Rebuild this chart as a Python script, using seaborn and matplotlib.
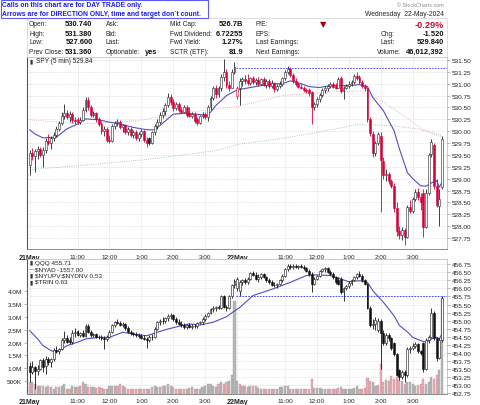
import numpy as np
import pandas as pd
import matplotlib
matplotlib.use("Agg")
import matplotlib.pyplot as plt
from matplotlib.patches import Rectangle
import seaborn as sns

# ---------------------------------------------------------------
# DATA (5 min bars, 21 May + 22 May, 78 bars per day)
# ---------------------------------------------------------------

spy_open = [
    529.28, 529.55, 529.48, 529.58, 529.62, 529.50, 529.60, 529.80, 529.75, 529.85,
    529.92, 530.05, 530.18, 530.32, 530.38, 530.30, 530.36, 530.24, 530.25, 530.20,
    530.24, 530.45, 530.66, 530.50, 530.35, 530.38, 530.25, 530.15, 530.00, 530.05,
    529.82, 529.80, 530.10, 530.18, 530.20, 530.08, 530.12, 529.98, 530.05, 529.92,
    529.98, 529.86, 529.95, 530.00, 529.82, 529.85, 529.75, 529.98, 530.10, 530.20,
    530.35, 530.42, 530.55, 530.72, 530.62, 530.48, 530.58, 530.45, 530.40, 530.50,
    530.38, 530.32, 530.36, 530.26, 530.18, 530.32, 530.36, 530.30, 530.50, 530.70,
    530.90, 530.78, 530.90, 531.15, 531.25, 530.98, 530.92, 531.25,
    530.74, 530.90, 531.05, 531.10, 531.08, 531.02, 531.12, 531.04, 531.08, 531.00,
    531.10, 530.98, 531.05, 530.96, 531.02, 530.88, 530.96, 531.00, 531.12, 531.25,
    531.32, 531.18, 531.06, 531.00, 530.94, 530.92, 530.86, 530.86, 530.82, 530.50,
    530.58, 530.68, 530.76, 530.86, 530.92, 530.96, 531.00, 530.96, 530.92, 531.12,
    530.84, 530.92, 530.96, 531.00, 531.04, 531.16, 531.14, 531.04, 530.95, 530.90,
    530.25, 529.95, 529.55, 529.75, 529.90, 529.38, 529.08, 529.10, 528.95, 528.85,
    528.38, 527.90, 527.82, 527.92, 527.78, 528.40, 528.32, 528.58, 528.72, 528.62,
    528.70, 527.98, 528.70, 529.52, 529.70, 528.85, 528.43, 528.82,
]
spy_high = [
    529.60, 529.65, 529.62, 529.68, 529.66, 529.66, 529.85, 529.95, 529.90, 529.98,
    530.10, 530.22, 530.40, 530.57, 530.45, 530.42, 530.40, 530.30, 530.30, 530.30,
    530.50, 530.72, 530.72, 530.55, 530.42, 530.40, 530.30, 530.22, 530.10, 530.08,
    529.92, 530.15, 530.22, 530.25, 530.24, 530.15, 530.15, 530.08, 530.08, 530.02,
    530.02, 529.98, 530.05, 530.02, 529.88, 529.88, 530.00, 530.15, 530.25, 530.40,
    530.48, 530.60, 530.80, 530.78, 530.68, 530.62, 530.62, 530.50, 530.55, 530.55,
    530.50, 530.40, 530.40, 530.30, 530.35, 530.40, 530.40, 530.55, 530.75, 530.95,
    530.98, 530.95, 531.20, 531.52, 531.30, 531.05, 531.30, 531.45,
    530.95, 531.12, 531.15, 531.18, 531.20, 531.15, 531.16, 531.12, 531.14, 531.12,
    531.14, 531.10, 531.10, 531.08, 531.04, 531.00, 531.05, 531.15, 531.28, 531.38,
    531.36, 531.22, 531.12, 531.04, 531.00, 530.96, 530.92, 530.90, 530.85, 530.62,
    530.72, 530.80, 530.90, 530.95, 531.00, 531.04, 531.04, 531.02, 531.15, 531.16,
    530.96, 531.00, 531.05, 531.08, 531.20, 531.24, 531.18, 531.08, 531.00, 530.92,
    530.30, 530.00, 529.80, 529.98, 529.98, 529.45, 529.20, 529.15, 529.00, 528.90,
    528.50, 528.00, 527.98, 527.96, 528.45, 528.55, 528.62, 528.78, 528.80, 528.70,
    528.78, 528.78, 529.55, 529.84, 529.75, 529.00, 528.78, 529.90,
]
spy_low = [
    529.07, 529.40, 529.14, 529.42, 529.45, 529.25, 529.55, 529.70, 529.62, 529.80,
    529.88, 530.00, 530.12, 530.25, 530.25, 530.20, 530.18, 530.15, 530.16, 530.15,
    530.22, 530.40, 530.45, 530.30, 530.30, 530.20, 530.10, 529.95, 529.90, 529.78,
    529.75, 529.78, 530.05, 530.10, 530.05, 529.98, 529.95, 529.92, 529.88, 529.85,
    529.82, 529.80, 529.88, 529.78, 529.66, 529.70, 529.72, 529.92, 530.05, 530.15,
    530.28, 530.35, 530.50, 530.55, 530.42, 530.45, 530.40, 530.38, 530.38, 530.30,
    530.30, 530.28, 530.18, 530.12, 530.15, 530.28, 530.25, 530.22, 530.45, 530.65,
    530.70, 530.72, 530.85, 531.05, 530.92, 530.85, 530.90, 531.20,
    530.68, 530.55, 530.95, 531.00, 530.98, 530.98, 531.00, 530.98, 530.96, 530.98,
    530.95, 530.92, 530.92, 530.90, 530.82, 530.85, 530.90, 530.96, 531.08, 531.20,
    531.15, 531.02, 530.95, 530.90, 530.88, 530.82, 530.80, 530.75, 530.15, 530.45,
    530.52, 530.62, 530.72, 530.80, 530.85, 530.90, 530.90, 530.88, 530.90, 530.80,
    530.68, 530.88, 530.92, 530.96, 531.00, 531.08, 531.00, 530.90, 530.85, 530.20,
    529.90, 529.45, 529.48, 529.70, 528.30, 529.00, 528.95, 528.88, 528.80, 528.30,
    527.80, 527.72, 527.70, 527.60, 527.75, 528.28, 528.28, 528.52, 528.55, 528.35,
    527.78, 527.95, 528.65, 529.45, 528.78, 528.40, 528.01, 528.78,
]
spy_close = [
    529.55, 529.48, 529.58, 529.62, 529.50, 529.60, 529.80, 529.75, 529.85, 529.92,
    530.05, 530.18, 530.32, 530.38, 530.30, 530.36, 530.24, 530.22, 530.20, 530.24,
    530.45, 530.66, 530.50, 530.35, 530.38, 530.25, 530.15, 530.00, 530.05, 529.82,
    529.80, 530.10, 530.18, 530.20, 530.08, 530.12, 529.98, 530.05, 529.92, 529.98,
    529.86, 529.95, 530.00, 529.82, 529.75, 529.75, 529.98, 530.10, 530.20, 530.35,
    530.42, 530.55, 530.72, 530.62, 530.48, 530.58, 530.45, 530.40, 530.50, 530.35,
    530.32, 530.36, 530.22, 530.18, 530.32, 530.35, 530.30, 530.50, 530.70, 530.90,
    530.78, 530.90, 531.15, 531.25, 530.98, 530.92, 531.25, 531.36,
    530.90, 531.05, 531.10, 531.05, 531.02, 531.12, 531.04, 531.08, 531.00, 531.10,
    530.98, 531.05, 530.96, 531.02, 530.88, 530.96, 531.00, 531.12, 531.25, 531.32,
    531.18, 531.06, 531.00, 530.94, 530.92, 530.86, 530.84, 530.80, 530.50, 530.58,
    530.68, 530.76, 530.86, 530.92, 530.96, 531.00, 530.94, 530.92, 531.10, 530.84,
    530.92, 530.96, 531.00, 531.04, 531.16, 531.12, 531.04, 530.95, 530.90, 530.25,
    529.96, 529.55, 529.75, 529.95, 529.40, 529.08, 529.10, 528.95, 528.85, 528.38,
    527.90, 527.82, 527.92, 527.78, 528.40, 528.32, 528.58, 528.72, 528.62, 528.50,
    527.98, 528.70, 529.50, 529.78, 528.85, 528.45, 528.57, 529.84,
]

qqq_open = [
    453.60, 453.40, 453.55, 453.42, 453.50, 453.78, 453.60, 453.80, 453.70, 453.80,
    454.10, 454.05, 454.12, 454.40, 454.45, 454.40, 454.32, 454.62, 454.68, 454.55,
    454.62, 454.52, 454.84, 454.65, 454.55, 454.58, 454.50, 454.48, 454.45, 454.44,
    454.50, 454.66, 454.85, 454.95, 454.92, 454.86, 454.90, 454.76, 454.66, 454.60,
    454.58, 454.54, 454.52, 454.47, 454.44, 454.40, 454.50, 454.48, 454.75, 454.95,
    455.00, 454.98, 455.08, 455.15, 455.18, 455.05, 454.96, 454.90, 454.85, 454.80,
    454.86, 454.80, 454.84, 454.82, 454.92, 454.96, 455.05, 455.15, 455.25, 455.35,
    455.38, 455.42, 455.40, 455.75, 455.42, 455.38, 455.75, 456.10,
    456.00, 455.92, 456.20, 456.25, 456.20, 456.30, 456.48, 456.42, 456.30, 456.35,
    456.44, 456.36, 456.25, 456.20, 456.12, 456.10, 456.15, 456.25, 456.40, 456.60,
    456.70, 456.66, 456.70, 456.68, 456.70, 456.66, 456.62, 456.55, 456.45, 456.15,
    456.30, 456.38, 456.55, 456.60, 456.62, 456.52, 456.45, 456.35, 456.25, 456.30,
    455.88, 456.00, 456.08, 456.18, 456.26, 456.36, 456.44, 456.40, 456.25, 456.15,
    455.40, 454.85, 454.90, 454.70, 455.00, 454.60, 454.30, 454.55, 454.45, 454.30,
    453.95, 453.45, 453.25, 453.40, 453.30, 454.12, 454.15, 454.20, 454.27, 454.05,
    454.30, 453.50, 454.40, 454.50, 455.25, 454.45, 453.85, 454.40,
]
qqq_high = [
    453.70, 453.75, 453.60, 453.62, 453.82, 453.85, 453.90, 453.88, 453.85, 454.15,
    454.20, 454.15, 454.45, 454.69, 454.55, 454.50, 454.70, 454.76, 454.72, 454.66,
    454.70, 454.90, 454.88, 454.70, 454.62, 454.60, 454.56, 454.55, 454.52, 454.55,
    454.70, 454.90, 455.00, 455.05, 454.98, 454.95, 454.94, 454.82, 454.70, 454.66,
    454.64, 454.60, 454.58, 454.55, 454.50, 454.55, 454.58, 454.80, 455.00, 455.05,
    455.10, 455.12, 455.20, 455.24, 455.22, 455.12, 455.05, 454.98, 454.92, 454.90,
    454.92, 454.88, 454.90, 454.95, 455.00, 455.10, 455.20, 455.28, 455.40, 455.45,
    455.45, 455.50, 455.80, 455.80, 455.50, 455.80, 456.15, 456.30,
    456.35, 456.26, 456.30, 456.32, 456.35, 456.52, 456.55, 456.50, 456.45, 456.48,
    456.48, 456.40, 456.32, 456.26, 456.20, 456.18, 456.30, 456.45, 456.65, 456.76,
    456.76, 456.75, 456.76, 456.74, 456.76, 456.72, 456.68, 456.60, 456.50, 456.35,
    456.42, 456.58, 456.65, 456.66, 456.66, 456.58, 456.50, 456.40, 456.35, 456.35,
    456.05, 456.12, 456.22, 456.30, 456.40, 456.48, 456.55, 456.45, 456.30, 456.18,
    455.45, 455.05, 455.10, 455.08, 455.05, 454.70, 454.60, 454.62, 454.50, 454.35,
    454.00, 453.50, 453.45, 453.48, 454.18, 454.22, 454.30, 454.32, 454.30, 454.10,
    454.35, 454.45, 454.55, 455.40, 455.30, 454.50, 454.45, 455.75,
]
qqq_low = [
    453.10, 453.35, 452.88, 453.30, 453.45, 453.40, 453.35, 453.62, 453.55, 453.75,
    454.00, 453.95, 454.08, 454.30, 454.30, 454.28, 454.28, 454.50, 454.52, 454.48,
    454.50, 454.48, 454.60, 454.50, 454.48, 454.45, 454.42, 454.40, 454.12, 454.38,
    454.46, 454.60, 454.80, 454.88, 454.82, 454.80, 454.70, 454.62, 454.55, 454.52,
    454.50, 454.45, 454.42, 454.40, 454.15, 454.35, 454.40, 454.45, 454.70, 454.85,
    454.90, 454.92, 455.00, 455.05, 455.00, 454.90, 454.85, 454.80, 454.75, 454.74,
    454.76, 454.74, 454.76, 454.78, 454.88, 454.90, 455.00, 455.10, 455.20, 455.28,
    455.30, 455.35, 455.36, 455.40, 455.30, 455.35, 455.70, 456.00,
    455.92, 455.78, 456.10, 456.15, 456.15, 456.25, 456.38, 456.25, 456.20, 456.30,
    456.32, 456.20, 456.15, 456.08, 456.05, 456.02, 456.10, 456.20, 456.35, 456.55,
    456.60, 456.60, 456.62, 456.60, 456.62, 456.58, 456.50, 456.40, 455.88, 456.10,
    456.25, 456.35, 456.50, 456.52, 456.48, 456.42, 456.30, 456.15, 456.10, 455.82,
    455.62, 455.95, 456.02, 456.12, 456.22, 456.30, 456.35, 456.20, 456.10, 455.35,
    454.80, 454.75, 454.70, 454.65, 453.50, 454.25, 454.25, 454.38, 454.10, 453.90,
    453.28, 453.15, 453.20, 453.08, 453.25, 453.98, 454.08, 454.15, 454.00, 453.92,
    453.40, 453.45, 454.30, 454.45, 454.40, 453.76, 453.80, 454.35,
]
qqq_close = [
    453.40, 453.55, 453.42, 453.50, 453.78, 453.55, 453.80, 453.70, 453.80, 454.10,
    454.05, 454.12, 454.40, 454.45, 454.35, 454.32, 454.62, 454.66, 454.55, 454.62,
    454.52, 454.84, 454.65, 454.55, 454.58, 454.50, 454.48, 454.45, 454.44, 454.50,
    454.66, 454.85, 454.95, 454.92, 454.86, 454.90, 454.76, 454.66, 454.60, 454.58,
    454.54, 454.52, 454.47, 454.44, 454.40, 454.50, 454.48, 454.75, 454.95, 455.00,
    454.98, 455.08, 455.15, 455.18, 455.05, 454.96, 454.90, 454.85, 454.80, 454.86,
    454.80, 454.84, 454.82, 454.92, 454.96, 455.05, 455.15, 455.25, 455.35, 455.38,
    455.42, 455.40, 455.75, 455.42, 455.38, 455.75, 456.10, 456.22,
    456.28, 456.20, 456.25, 456.20, 456.30, 456.48, 456.42, 456.30, 456.35, 456.44,
    456.36, 456.25, 456.20, 456.12, 456.10, 456.15, 456.25, 456.40, 456.60, 456.70,
    456.66, 456.70, 456.68, 456.70, 456.66, 456.62, 456.55, 456.45, 456.15, 456.30,
    456.38, 456.55, 456.60, 456.62, 456.52, 456.45, 456.35, 456.20, 456.15, 455.88,
    456.00, 456.08, 456.18, 456.26, 456.36, 456.44, 456.40, 456.25, 456.15, 455.40,
    454.85, 454.90, 455.02, 455.00, 454.60, 454.30, 454.55, 454.45, 454.15, 453.95,
    453.32, 453.25, 453.40, 453.30, 454.12, 454.15, 454.20, 454.27, 454.05, 454.00,
    453.50, 454.40, 454.50, 455.25, 454.45, 453.85, 454.40, 455.71,
]
# QQQ volume, millions
qqq_volume = [
    0.45, 0.45, 0.40, 0.33, 0.30, 0.33, 0.27, 0.30, 0.27, 0.21,
    0.27, 0.27, 0.33, 0.40, 0.21, 0.21, 0.33, 0.27, 0.27, 0.30,
    0.45, 0.40, 0.27, 0.27, 0.27, 0.25, 0.27, 0.25, 0.21, 0.21,
    0.30, 0.33, 0.33, 0.33, 0.40, 0.30, 0.27, 0.21, 0.21, 0.18,
    0.18, 0.21, 0.21, 0.18, 0.21, 0.21, 0.27, 0.33, 0.27, 0.27,
    0.33, 0.33, 0.40, 0.30, 0.27, 0.21, 0.21, 0.21, 0.21, 0.21,
    0.24, 0.27, 0.21, 0.21, 0.18, 0.27, 0.33, 0.40, 0.40, 0.30,
    0.27, 0.40, 0.46, 0.40, 0.46, 0.50, 0.72, 3.60,
    0.50, 0.40, 0.33, 0.30, 0.27, 0.33, 0.33, 0.30, 0.24, 0.21,
    0.21, 0.18, 0.18, 0.21, 0.21, 0.21, 0.27, 0.27, 0.33, 0.30,
    0.21, 0.21, 0.18, 0.21, 0.18, 0.21, 0.21, 0.21, 0.60, 0.24,
    0.24, 0.24, 0.21, 0.21, 0.18, 0.21, 0.21, 0.21, 0.24, 0.27,
    0.21, 0.18, 0.21, 0.21, 0.24, 0.30, 0.18, 0.21, 0.24, 0.62,
    0.52, 0.46, 0.33, 0.35, 1.15, 0.46, 0.55, 0.50, 0.70, 0.59,
    0.65, 0.55, 0.50, 0.40, 0.46, 0.46, 0.40, 0.33, 0.36, 0.40,
    0.59, 0.40, 0.46, 0.65, 0.59, 0.72, 0.95, 3.70,
]

# moving averages (bar index, value)
spy_ma_idx = [0, 2, 5, 10, 14, 18, 21, 26, 30, 34, 39, 44, 47, 49, 54, 59, 64, 67, 70, 74,
              78, 87, 92, 95, 98, 102, 105, 109, 113, 117, 120, 124, 127, 129, 133, 137,
              139, 142, 144, 147, 149, 151, 153, 154, 155]
spy_ma_val = [530.03, 529.94, 529.86, 529.87, 530.05, 530.15, 530.26, 530.24, 530.19, 530.15,
              530.08, 530.03, 530.03, 530.12, 530.36, 530.38, 530.35, 530.33, 530.54, 530.75,
              530.87, 530.96, 531.00, 531.00, 531.06, 531.00, 530.94, 530.92, 530.96, 530.96,
              530.96, 530.98, 530.94, 530.71, 530.43, 530.01, 529.63, 529.13, 529.00, 528.85,
              528.84, 528.91, 528.96, 528.82, 528.92]
spy_ma50_idx = [0, 20, 40, 60, 78, 95, 110, 124, 132, 140, 148, 155]
spy_ma50_val = [530.24, 530.15, 530.22, 530.40, 530.52, 530.75, 530.82, 530.85, 530.65, 530.35, 530.03, 529.87]
spy_ma200_idx = [0, 26, 45, 70, 79, 94, 109, 123, 135, 146, 155]
spy_ma200_val = [529.19, 529.31, 529.41, 529.59, 529.73, 529.84, 529.98, 530.14, 530.12, 530.05, 529.91]

qqq_ma_idx = [0, 3, 5, 8, 10, 14, 18, 21, 26, 30, 35, 39, 44, 48, 52, 57, 60, 64, 69, 74,
              77, 79, 84, 92, 98, 104, 108, 113, 117, 120, 124, 127, 129, 133, 137, 139,
              142, 144, 147, 149, 151, 153, 154, 155]
qqq_ma_val = [454.69, 454.43, 454.22, 454.07, 454.01, 454.22, 454.33, 454.43, 454.48, 454.48,
              454.64, 454.58, 454.53, 454.64, 454.74, 454.84, 454.90, 454.86, 454.95, 455.12,
              455.30, 455.41, 455.78, 456.00, 456.19, 456.40, 456.42, 456.40, 456.29, 456.21,
              456.24, 456.19, 455.93, 455.57, 455.15, 454.85, 454.65, 454.48, 454.38, 454.33,
              454.43, 454.48, 454.43, 454.58]

spy_prev_close = 531.33
qqq_prev_close = 455.78

tick_idx = [0, 18, 30, 42, 54, 66, 78, 96, 108, 120, 132, 144]
tick_labels = ["21May", "11:00", "12:00", "1:00", "2:00", "3:00",
               "22May", "11:00", "12:00", "1:00", "2:00", "3:00"]

vol_ticks = [0.5, 1.0, 1.5, 2.0, 2.5, 3.0, 3.5, 4.0]
vol_labels = ["500K", "1.0M", "1.5M", "2.0M", "2.5M", "3.0M", "3.5M", "4.0M"]

bars_per_day = 78

spy = pd.DataFrame({"open": spy_open, "high": spy_high, "low": spy_low, "close": spy_close})
qqq = pd.DataFrame({"open": qqq_open, "high": qqq_high, "low": qqq_low,
                    "close": qqq_close, "vol": qqq_volume})
spy["i"] = np.arange(len(spy))
qqq["i"] = np.arange(len(qqq))

# ---------------------------------------------------------------
# STYLE
# ---------------------------------------------------------------

sns.set_theme(style="white")
plt.rcParams["font.family"] = ["Liberation Sans", "DejaVu Sans"]

W, H = 480, 406
fig = plt.figure(figsize=(W / 100, H / 100), dpi=100)


def fx(px):
    return px / W


def fy(py):
    return 1 - py / H


RED = "#d6003a"
BLUE = "#4f4fc6"
GRID = "#cdcdcd"
TICK_FS = 4.6

ax_top = fig.add_axes([fx(27), fy(250), 420 / W, 192 / H])
ax_vol = fig.add_axes([fx(27), fy(395), 420 / W, 135 / H])
ax_bot = ax_vol.twinx()


def draw_candles(ax, d, up_col, dn_col):
    prev = d["close"].shift(1).fillna(d["open"])
    col = np.where(d["close"] >= prev, up_col, dn_col)
    face = np.where(d["close"] < d["open"], col, "white")
    ax.vlines(d["i"], d["low"], d["high"], colors=col, linewidth=0.6, zorder=3)
    lo = d[["open", "close"]].min(axis=1)
    h = (d["close"] - d["open"]).abs().clip(lower=0.012)
    ax.bar(d["i"], h, bottom=lo, width=0.72, color=face, edgecolor=col,
           linewidth=0.4, zorder=4)


def style_axis(ax):
    for s in ["top", "right"]:
        ax.spines[s].set_color("#b0b0b0")
        ax.spines[s].set_linewidth(0.5)
    ax.spines["left"].set_color("#555555")
    ax.spines["left"].set_linewidth(0.8)
    ax.spines["bottom"].set_color("#777777")
    ax.spines["bottom"].set_linewidth(0.6)


# ---------------------------------------------------------------
# TOP PANEL: SPY
# ---------------------------------------------------------------

xmax = 156.9
day2 = bars_per_day - 0.5

sns.lineplot(x=spy_ma200_idx, y=spy_ma200_val, ax=ax_top, color="#8cc48c",
             linewidth=0.6, linestyle=":", zorder=2)
sns.lineplot(x=spy_ma50_idx, y=spy_ma50_val, ax=ax_top, color="#e7a0a8",
             linewidth=0.6, linestyle=":", zorder=2)
sns.lineplot(x=spy_ma_idx, y=spy_ma_val, ax=ax_top, color=BLUE, linewidth=0.8, zorder=2.5)
draw_candles(ax_top, spy, "#222222", RED)
ax_top.hlines(spy_prev_close, day2, xmax, colors="#3535f0", linewidth=0.6,
              linestyles=(0, (2, 1.5)), zorder=5)

ax_top.set_xlim(-1, xmax)
ax_top.set_ylim(527.518, 531.563)
ax_top.yaxis.tick_right()
ax_top.set_yticks(np.arange(527.75, 531.51, 0.25))
ax_top.set_yticklabels([f"{v:.2f}" for v in np.arange(527.75, 531.51, 0.25)])
ax_top.set_xticks(tick_idx)
ax_top.set_xticklabels(tick_labels)
ax_top.grid(True, color=GRID, linestyle=(0, (1, 1.5)), linewidth=0.5)
ax_top.set_axisbelow(True)
style_axis(ax_top)

# ---------------------------------------------------------------
# BOTTOM PANEL: QQQ + volume
# ---------------------------------------------------------------

prev_q = qqq["close"].shift(1).fillna(qqq["open"])
qqq["dir"] = np.where(qqq["close"] >= prev_q, "up", "down")
sns.barplot(data=qqq, x="i", y="vol", hue="dir", palette={"up": "#b5b5b5", "down": "#f2a6b2"},
            native_scale=True, dodge=False, saturation=1, width=0.8, errorbar=None,
            legend=False, ax=ax_vol, edgecolor="#9a9a9a", linewidth=0.25)
ax_vol.set_ylim(0, 5.25)
ax_vol.set_yticks(vol_ticks)
ax_vol.set_yticklabels(vol_labels)
ax_vol.set_xlim(-1, xmax)
ax_vol.set_xticks(tick_idx)
ax_vol.set_xticklabels(tick_labels)
ax_vol.xaxis.grid(True, color=GRID, linestyle=(0, (1, 1.5)), linewidth=0.5)
ax_vol.yaxis.grid(False)
ax_vol.set_axisbelow(True)
ax_vol.set_xlabel("")
ax_vol.set_ylabel("")
style_axis(ax_vol)

sns.lineplot(x=qqq_ma_idx, y=qqq_ma_val, ax=ax_bot, color=BLUE, linewidth=0.8, zorder=2.5)
draw_candles(ax_bot, qqq, "#111111", "#111111")
ax_bot.hlines(qqq_prev_close, day2, xmax, colors="#3535f0", linewidth=0.6,
              linestyles=(0, (2, 1.5)), zorder=5)
ax_bot.set_ylim(452.719, 456.915)
q_ticks = np.arange(452.75, 456.76, 0.25)
ax_bot.set_yticks(q_ticks)
ax_bot.set_yticklabels([f"{v:.2f}" for v in q_ticks])
ax_bot.yaxis.grid(True, color=GRID, linestyle=(0, (1, 1.5)), linewidth=0.5)
ax_bot.xaxis.grid(False)
ax_bot.set_xlim(-1, xmax)
ax_bot.set_ylabel("")
for s in ax_bot.spines.values():
    s.set_visible(False)

for ax in [ax_top, ax_vol, ax_bot]:
    ax.tick_params(axis="both", labelsize=TICK_FS, length=2, width=0.4,
                   color="#888888", pad=1.5, labelcolor="#222222")
    ax.set_xlabel("")
ax_vol.tick_params(axis="x", pad=0.8)
for ax in [ax_top, ax_vol]:
    for lab in ax.get_xticklabels():
        if "May" in lab.get_text():
            lab.set_fontweight("bold")
            lab.set_fontsize(5)

# ---------------------------------------------------------------
# HEADER TEXT
# ---------------------------------------------------------------

fig.patches.append(Rectangle((fx(0.5), fy(19)), 207 / W, 18.5 / H, transform=fig.transFigure,
                             facecolor="white", edgecolor="#5c5cf5", linewidth=0.8, zorder=10))
fig.text(fx(2), fy(5.5), "Calls on this chart are for DAY TRADE only.", fontsize=4.9,
         fontweight="bold", color="#1c1cf0", va="center", zorder=11)
fig.text(fx(2), fy(14), "Arrows are for DIRECTION ONLY, time and target don`t count.",
         fontsize=4.9, fontweight="bold", color="#1c1cf0", va="center", zorder=11)

fig.patches.append(Rectangle((fx(27), fy(58)), 420 / W, 39 / H, transform=fig.transFigure,
                             facecolor="none", edgecolor="#d0d0d0", linewidth=0.5))

rows_y = [25, 34, 43, 52]
lab_fs, val_fs = 4.8, 5.4
col1 = ["Open:", "High:", "Low:", "Prev Close:"]
val1 = ["530.740", "531.380", "527.600", "531.360"]
col2 = ["Ask:", "Bid:", "Last:", "Optionable:"]
col3 = ["Mkt Cap:", "Fwd Dividend:", "Fwd Yield:", "SCTR (ETF):"]
val3 = ["526.7B", "6.72255", "1.27%", "81.9"]
col4 = ["P/E:", "EPS:", "Last Earnings:", "Next Earnings:"]
for k, y in enumerate(rows_y):
    fig.text(fx(29), fy(y), col1[k], fontsize=lab_fs, va="center", color="#222222")
    fig.text(fx(92.5), fy(y), val1[k], fontsize=val_fs, fontweight="bold", va="center",
             ha="right", color="#111111")
    fig.text(fx(105.5), fy(y), col2[k], fontsize=lab_fs, va="center", color="#222222")
    fig.text(fx(170.5), fy(y), col3[k], fontsize=lab_fs, va="center", color="#222222")
    fig.text(fx(243), fy(y), val3[k], fontsize=val_fs, fontweight="bold", va="center",
             ha="right", color="#111111")
    fig.text(fx(256), fy(y), col4[k], fontsize=lab_fs, va="center", color="#222222")
fig.text(fx(145), fy(52), "yes", fontsize=val_fs, fontweight="bold", va="center", color="#111111")

fig.text(fx(444), fy(5.5), "\u00a9 StockCharts.com", fontsize=3.9, ha="right", va="center",
         color="#8a8a8a")
fig.text(fx(444), fy(15), "Wednesday  22-May-2024", fontsize=4.9, ha="right", va="center",
         color="#222222")
fig.text(fx(323), fy(25), "\u25bc", fontsize=6, ha="center", va="center", color="#a0001e",
         family="DejaVu Sans")
fig.text(fx(444), fy(25), "-0.29%", fontsize=6.6, fontweight="bold", ha="right", va="center",
         color="#c8102e")
right_lab = ["Chg:", "Last:", "Volume:"]
right_val = ["-1.520", "529.840", "46,012,392"]
right_x = [380.5, 380.5, 377]
for k, y in enumerate(rows_y[1:]):
    fig.text(fx(right_x[k]), fy(y), right_lab[k], fontsize=lab_fs, va="center", color="#222222")
    fig.text(fx(444), fy(y), right_val[k], fontsize=val_fs, fontweight="bold", ha="right",
             va="center", color="#111111")

# panel legends
fig.text(fx(29), fy(61.5), "\u25ae", fontsize=4.2, va="center", color="#333333",
         family="DejaVu Sans")
fig.text(fx(35.5), fy(61.5), "SPY (5 min) 529.84", fontsize=4.7, va="center", color="#222222")

leg_y = [263, 269.5, 276, 282.5]
leg_icon = ["\u25ae", "\u2014", "\u25ae", "\u25ae"]
leg_text = ["QQQ 455.71", "\\$NYAD -1557.00", "\\$NYUPV:\\$NYDNV 0.53", "\\$TRIN 0.63"]
for k, y in enumerate(leg_y):
    fig.text(fx(29), fy(y), leg_icon[k], fontsize=4.2, va="center", color="#333333",
             family="DejaVu Sans")
    fig.text(fx(35), fy(y), leg_text[k], fontsize=4.6, va="center", color="#222222")

fig.savefig("out.png", dpi=100)
